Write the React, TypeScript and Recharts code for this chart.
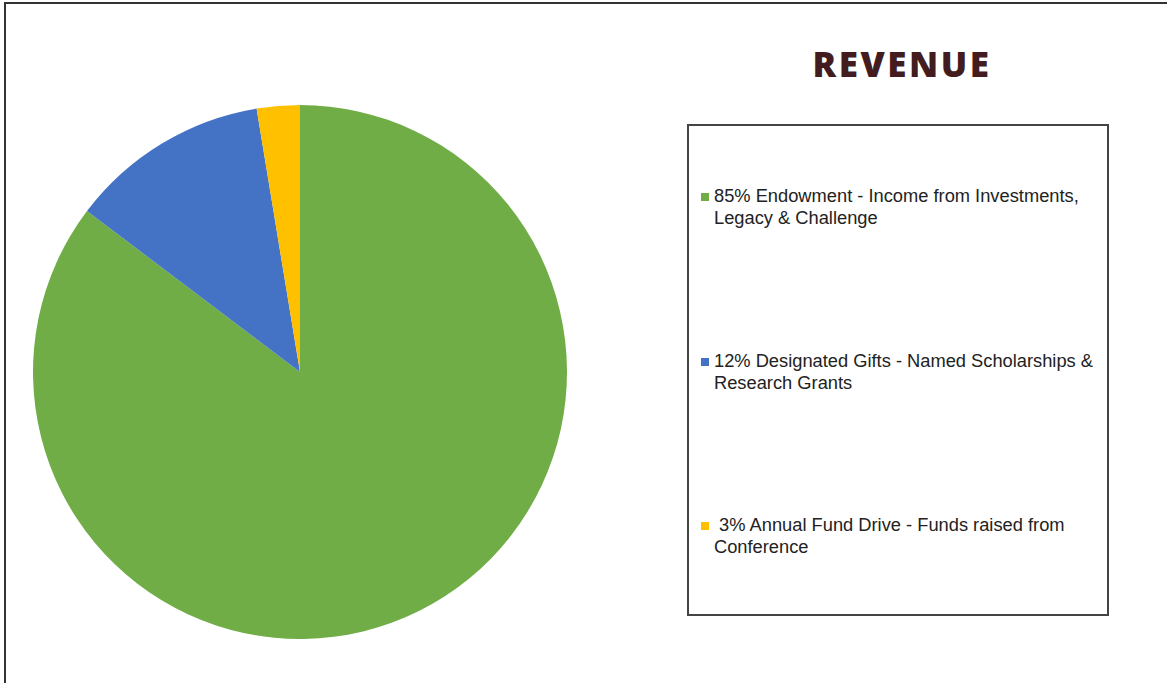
import React from 'react';
import { PieChart, Pie, Cell, Legend } from 'recharts';

const categories = [
  'Endowment - Income from Investments, Legacy & Challenge',
  'Designated Gifts - Named Scholarships & Research Grants',
  'Annual Fund Drive - Funds raised from Conference',
];
const values = [85.3, 12.1, 2.6];
const colors = ['#70AD47', '#4472C4', '#FFC000'];
const legendLines = [
  ['85% Endowment - Income from Investments,', 'Legacy & Challenge'],
  ['12% Designated Gifts - Named Scholarships &', 'Research Grants'],
  [' 3% Annual Fund Drive - Funds raised from', 'Conference'],
];

const data = categories.map((name, i) => ({ name, value: values[i] }));

const LegendBox = () => (
  <div
    style={{
      position: 'absolute',
      left: 687,
      top: 124,
      width: 418,
      height: 488,
      border: '2px solid #444',
      background: '#fff',
      fontFamily: '"Liberation Sans", Arial, sans-serif',
      fontSize: 18.3,
      color: '#222',
      lineHeight: '22px',
    }}
  >
    {legendLines.map((lines, i) => (
      <div
        key={i}
        style={{ position: 'absolute', left: 12, top: 59 + i * 164.5, whiteSpace: 'pre' }}
      >
        <span
          style={{
            position: 'absolute',
            left: 0,
            top: 8,
            width: 8,
            height: 8,
            background: colors[i],
          }}
        />
        <div style={{ paddingLeft: 13 }}>{lines[0]}</div>
        <div style={{ paddingLeft: 13 }}>{lines[1]}</div>
      </div>
    ))}
  </div>
);

export default function App() {
  return (
    <div style={{ position: 'absolute', left: 0, top: 0, width: 1167, height: 683, background: '#fff', overflow: 'hidden' }}>
      <div style={{ position: 'absolute', left: 4, top: 2, width: 1200, height: 800, borderLeft: '2px solid #333', borderTop: '2px solid #333' }} />
      <div
        style={{
          position: 'absolute',
          left: 700,
          top: 40,
          width: 404,
          textAlign: 'center',
          fontFamily: '"Open Sans", Lato, sans-serif',
          fontWeight: 800,
          fontSize: 35,
          letterSpacing: 2.5,
          color: '#421C1E',
        }}
      >
        REVENUE
      </div>
      <div style={{ position: 'absolute', left: 0, top: 0 }}>
        <PieChart width={1167} height={683} margin={{ top: 0, right: 0, bottom: 0, left: 0 }}>
          <Pie
            data={data}
            dataKey="value"
            nameKey="name"
            cx={300}
            cy={372}
            outerRadius={267}
            startAngle={90}
            endAngle={-270}
            stroke="none"
            isAnimationActive={false}
          >
            {data.map((d, i) => (
              <Cell key={d.name} fill={colors[i]} />
            ))}
          </Pie>
          <Legend content={() => null} />
        </PieChart>
      </div>
      <LegendBox />
    </div>
  );
}
